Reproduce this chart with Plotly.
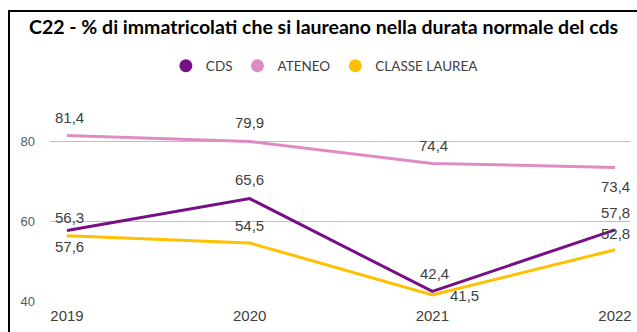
import plotly.graph_objects as go

# Anni accademici e serie
years = [2019, 2020, 2021, 2022]
cds = [57.6, 65.6, 42.4, 57.8]
ateneo = [81.4, 79.9, 74.4, 73.4]
classe = [56.3, 54.5, 41.5, 52.8]
y_ticks = [40, 60, 80]

series = [
    ("CDS", cds, "#770F87"),
    ("ATENEO", ateneo, "#E08CC4"),
    ("CLASSE LAUREA", classe, "#FFC000"),
]

# spostamenti (px) delle etichette dei valori rispetto al punto
label_offsets = {
    "CDS": [(3, -16), (0, 19), (2, 18), (0, 17)],
    "ATENEO": [(3, 18), (0, 19), (1, 18), (0, -19)],
    "CLASSE LAUREA": [(3, 18), (0, 18), (32, 0), (0, 16)],
}

fig = go.Figure()

for name, vals, color in series:
    fig.add_trace(go.Scatter(
        x=years, y=vals, mode="lines", name=name,
        line=dict(color=color, width=3),
        showlegend=False, hoverinfo="skip",
    ))

# voci di legenda (solo marcatore circolare)
for name, vals, color in series:
    fig.add_trace(go.Scatter(
        x=[None], y=[None], mode="markers", name=name,
        marker=dict(color=color, size=13, symbol="circle"),
    ))

annotations = []
for name, vals, color in series:
    for x, v, (dx, dy) in zip(years, vals, label_offsets[name]):
        annotations.append(dict(
            x=x, y=v, xref="x", yref="y",
            text=f"{v:.1f}".replace(".", ","),
            showarrow=False, xshift=dx, yshift=dy,
            font=dict(family="Liberation Sans, Arial", size=15, color="#404040"),
        ))

fig.update_layout(
    width=637, height=332,
    margin=dict(l=50, r=7, t=101, b=31, autoexpand=False),
    paper_bgcolor="white", plot_bgcolor="white",
    title=dict(
        text="<b>C22 - % di immatricolati che si laureano nella durata normale del cds</b>",
        x=0.508, xref="container", xanchor="center",
        y=1 - 27 / 332, yref="container", yanchor="middle",
        font=dict(family="Lato", size=19.5, color="#000000"),
    ),
    legend=dict(
        orientation="h", x=0.51, xanchor="center", xref="container",
        y=1 - 66 / 332, yref="container", yanchor="middle",
        font=dict(family="Lato", size=13.5, color="#404040"),
        itemwidth=30, tracegroupgap=0,
    ),
    annotations=annotations,
    shapes=[dict(
        type="rect", xref="paper", yref="paper",
        x0=(9 - 50) / 580, x1=(645 - 50) / 580,
        y0=(301 - 340) / 200, y1=(301 - 11) / 200,
        line=dict(color="#000000", width=2), fillcolor="rgba(0,0,0,0)",
        layer="above",
    )],
    xaxis=dict(
        range=[2018.907, 2022.082],
        tickmode="array", tickvals=years, ticktext=[str(y) for y in years],
        showgrid=False, zeroline=False, showline=False, ticks="",
        tickfont=dict(family="Liberation Sans, Arial", size=15, color="#404040"),
        ticklabelstandoff=4,
    ),
    yaxis=dict(
        range=[40, 90],
        tickmode="array", tickvals=y_ticks,
        showgrid=True, gridcolor="#BFBFBF", gridwidth=1.3,
        zeroline=False, showline=False, ticks="",
        tickfont=dict(family="Liberation Sans, Arial", size=13, color="#595959"),
        ticklabelstandoff=14,
    ),
)

fig.write_html("out.html")
